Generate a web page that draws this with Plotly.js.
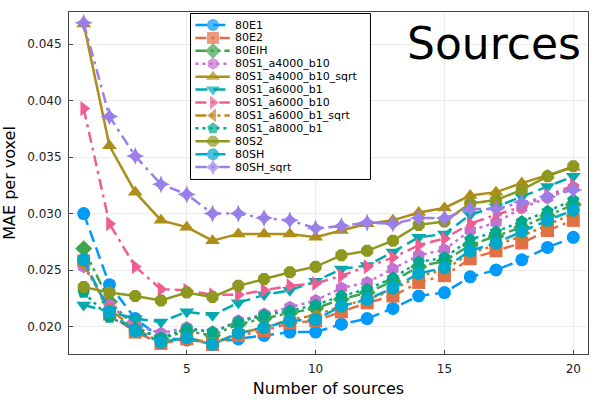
<!DOCTYPE html>
<html>
<head>
<meta charset="utf-8">
<script src="https://cdn.plot.ly/plotly-3.0.1.min.js"></script>
<style>
  html, body { margin: 0; padding: 0; background: #fff; }
  #chart { width: 600px; height: 400px; }
</style>
</head>
<body>
<div id="chart"></div>
<script>
// number of sources on the x axis
const nSources = [1, 2, 3, 4, 5, 6, 7, 8, 9, 10, 11, 12, 13, 14, 15, 16, 17, 18, 19, 20];

// MAE per voxel, one array per run
const mae80E1 = [0.0300, 0.0237, 0.0207, 0.0190, 0.0188, 0.0186, 0.0189, 0.0192, 0.0195, 0.0195,
                 0.0202, 0.0207, 0.0216, 0.0227, 0.0230, 0.0244, 0.0250, 0.0259, 0.0270, 0.0279];
const mae80E2 = [0.0258, 0.0211, 0.0195, 0.0185, 0.0189, 0.0184, 0.0192, 0.0196, 0.0203, 0.0205,
                 0.0213, 0.0221, 0.0227, 0.0239, 0.0245, 0.0260, 0.0267, 0.0274, 0.0285, 0.0294];
const mae80EIH = [0.0269, 0.0222, 0.0200, 0.0189, 0.0196, 0.0192, 0.0202, 0.0207, 0.0212, 0.0216,
                  0.0224, 0.0230, 0.0240, 0.0253, 0.0258, 0.0272, 0.0280, 0.0288, 0.0298, 0.0308];
const mae80S1_a4000_b10 = [0.0253, 0.0219, 0.0201, 0.0194, 0.0199, 0.0195, 0.0205, 0.0211, 0.0217, 0.0223,
                           0.0234, 0.0239, 0.0251, 0.0263, 0.0268, 0.0285, 0.0292, 0.0305, 0.0314, 0.0323];
const mae80S1_a4000_b10_sqrt = [0.0468, 0.0360, 0.0319, 0.0294, 0.0288, 0.0276, 0.0282, 0.0282, 0.0282, 0.0279,
                                0.0285, 0.0291, 0.0294, 0.0301, 0.0305, 0.0316, 0.0319, 0.0327, 0.0334, 0.0341];
const mae80S1_a6000_b1 = [0.0219, 0.0213, 0.0207, 0.0204, 0.0213, 0.0210, 0.0221, 0.0228, 0.0232, 0.0240,
                          0.0251, 0.0254, 0.0266, 0.0279, 0.0282, 0.0299, 0.0306, 0.0315, 0.0324, 0.0333];
const mae80S1_a6000_b10 = [0.0393, 0.0291, 0.0253, 0.0233, 0.0232, 0.0228, 0.0228, 0.0232, 0.0236, 0.0238,
                           0.0245, 0.0253, 0.0261, 0.0272, 0.0278, 0.0291, 0.0299, 0.0306, 0.0316, 0.0325];
const mae80S1_a6000_b1_sqrt = [0.0255, 0.0215, 0.0198, 0.0186, 0.0190, 0.0185, 0.0194, 0.0199, 0.0206, 0.0210,
                               0.0218, 0.0224, 0.0232, 0.0245, 0.0250, 0.0265, 0.0272, 0.0280, 0.0290, 0.0300];
const mae80S1_a8000_b1 = [0.0230, 0.0208, 0.0198, 0.0190, 0.0198, 0.0195, 0.0204, 0.0210, 0.0214, 0.0219,
                          0.0227, 0.0233, 0.0243, 0.0257, 0.0261, 0.0277, 0.0284, 0.0293, 0.0302, 0.0312];
const mae80S2 = [0.0235, 0.0230, 0.0227, 0.0223, 0.0230, 0.0226, 0.0236, 0.0242, 0.0248, 0.0253,
                 0.0263, 0.0267, 0.0276, 0.0290, 0.0293, 0.0309, 0.0312, 0.0321, 0.0333, 0.0342];
const mae80SH = [0.0259, 0.0213, 0.0196, 0.0186, 0.0190, 0.0184, 0.0194, 0.0199, 0.0205, 0.0206,
                 0.0218, 0.0224, 0.0234, 0.0247, 0.0252, 0.0267, 0.0274, 0.0284, 0.0294, 0.0303];
const mae80SH_sqrt = [0.0469, 0.0386, 0.0351, 0.0326, 0.0317, 0.0300, 0.0300, 0.0296, 0.0294, 0.0287,
                      0.0289, 0.0292, 0.0291, 0.0296, 0.0296, 0.0304, 0.0304, 0.0310, 0.0315, 0.0321];

const seriesNames = ['80E1', '80E2', '80EIH', '80S1_a4000_b10', '80S1_a4000_b10_sqrt', '80S1_a6000_b1',
                     '80S1_a6000_b10', '80S1_a6000_b1_sqrt', '80S1_a8000_b1', '80S2', '80SH', '80SH_sqrt'];
const seriesValues = [mae80E1, mae80E2, mae80EIH, mae80S1_a4000_b10, mae80S1_a4000_b10_sqrt, mae80S1_a6000_b1,
                      mae80S1_a6000_b10, mae80S1_a6000_b1_sqrt, mae80S1_a8000_b1, mae80S2, mae80SH, mae80SH_sqrt];

const xTicks = [5, 10, 15, 20];
const yTicks = [0.020, 0.025, 0.030, 0.035, 0.040, 0.045];
const yTickText = ['0.020', '0.025', '0.030', '0.035', '0.040', '0.045'];

// styling (Plots.jl default palette, markers and line styles)
const COLORS = ['#009AFA', '#E36F47', '#3EA44E', '#C371D2', '#AC8E18', '#00AAAE',
                '#ED5E93', '#C68225', '#00A98D', '#8E971E', '#00A8CB', '#9B7FE9'];
const SYMBOLS = ['circle', 'square', 'diamond', 'hexagon', 'triangle-up', 'triangle-down',
                 'triangle-right', 'triangle-left', 'pentagon', 'octagon', 'circle', 'star-diamond'];
const DASH = {
    dash: '12px,6px',
    dashdot: '11px,5px,3px,5px',
    dashdotdot: '11px,4px,3px,4px,3px,4px',
    dot: '3px,4px',
    solid: 'solid'
};
const STYLES = ['dash', 'dashdot', 'dashdotdot', 'dot', 'solid'];
const FONT = 'DejaVu Sans, sans-serif';

const traces = seriesValues.map((vals, i) => ({
    type: 'scatter',
    mode: 'lines+markers',
    x: nSources,
    y: vals,
    name: seriesNames[i],
    line: { color: COLORS[i], width: 2.5, dash: DASH[STYLES[i % STYLES.length]] },
    marker: { symbol: SYMBOLS[i], size: 13, color: COLORS[i], line: { width: 0 } },
    xaxis: 'x',
    yaxis: 'y',
    showlegend: false
}));

// hand-built legend on its own small subplot (native legend rows are too tall)
const LEG_TOP = -0.93, LEG_BOTTOM = 12.0;
traces.push({
    type: 'scatter',
    mode: 'lines',
    x: [0.003, 0.997, 0.997, 0.003, 0.003],
    y: [LEG_TOP + 0.04, LEG_TOP + 0.04, LEG_BOTTOM - 0.04, LEG_BOTTOM - 0.04, LEG_TOP + 0.04],
    fill: 'toself',
    fillcolor: '#ffffff',
    line: { color: '#000000', width: 1 },
    xaxis: 'x2',
    yaxis: 'y2',
    showlegend: false,
    hoverinfo: 'skip'
});
seriesNames.forEach((name, i) => {
    traces.push({
        type: 'scatter',
        mode: 'lines+markers',
        x: [0.03, 0.127, 0.22],
        y: [i, i, i],
        line: { color: COLORS[i], width: 2.5, dash: DASH[STYLES[i % STYLES.length]] },
        marker: { symbol: SYMBOLS[i], size: [0, 12, 0], color: COLORS[i], line: { width: 0 } },
        xaxis: 'x2',
        yaxis: 'y2',
        showlegend: false,
        hoverinfo: 'skip'
    });
});

const legendAnnotations = seriesNames.map((name, i) => ({
    xref: 'x2', yref: 'y2',
    x: 0.245, y: i,
    text: name,
    showarrow: false,
    xanchor: 'left',
    yanchor: 'middle',
    borderpad: 0,
    font: { family: FONT, size: 11, color: '#000' }
}));

const layout = {
    width: 600,
    height: 400,
    margin: { l: 69, r: 12, t: 12, b: 46 },
    paper_bgcolor: '#ffffff',
    plot_bgcolor: 'rgba(0,0,0,0)',
    font: { family: FONT, size: 12, color: '#000' },
    showlegend: false,
    xaxis: {
        domain: [0, 1],
        range: [0.43, 20.57],
        tickvals: xTicks,
        ticks: 'inside',
        ticklen: 4,
        tickcolor: '#444',
        ticklabelstandoff: 4,
        showgrid: true,
        gridcolor: '#ececec',
        gridwidth: 1,
        zeroline: false,
        showline: true,
        mirror: true,
        linecolor: '#444',
        linewidth: 1,
        tickfont: { family: FONT, size: 12, color: '#222' },
        title: { text: 'Number of sources', font: { family: FONT, size: 16, color: '#000' }, standoff: 7 }
    },
    yaxis: {
        domain: [0, 1],
        range: [0.01756, 0.04786],
        tickvals: yTicks,
        ticktext: yTickText,
        ticks: 'inside',
        ticklen: 4,
        tickcolor: '#444',
        ticklabelstandoff: 4,
        showgrid: true,
        gridcolor: '#ececec',
        gridwidth: 1,
        zeroline: false,
        showline: true,
        mirror: true,
        linecolor: '#444',
        linewidth: 1,
        tickfont: { family: FONT, size: 12, color: '#222' },
        title: { text: 'MAE per voxel', font: { family: FONT, size: 16, color: '#000' }, standoff: 7 }
    },
    xaxis2: {
        domain: [0.2331, 0.5819],
        anchor: 'y2',
        range: [0, 1],
        visible: false,
        fixedrange: true
    },
    yaxis2: {
        domain: [0.5088, 0.9971],
        anchor: 'x2',
        range: [LEG_BOTTOM, LEG_TOP],
        visible: false,
        fixedrange: true
    },
    annotations: [
        {
            xref: 'paper', yref: 'paper',
            x: 0.99, y: 0.909,
            text: 'Sources',
            showarrow: false,
            xanchor: 'right',
            yanchor: 'middle',
            font: { family: FONT, size: 44, color: '#000' }
        }
    ].concat(legendAnnotations)
};

Plotly.newPlot('chart', traces, layout, { displayModeBar: false, staticPlot: true });
</script>
</body>
</html>
